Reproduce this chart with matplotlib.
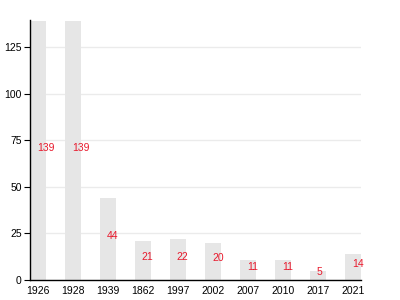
import numpy as np
import matplotlib.pyplot as plt

YEARS = ['1926', '1928', '1939', '1862', '1997', '2002', '2007', '2010', '2017', '2021']
VALUES = [139, 139, 44, 21, 22, 20, 11, 11, 5, 14]
YTICKS = [0, 25, 50, 75, 100, 125]

plt.rcParams['font.family'] = ['Liberation Sans', 'DejaVu Sans']

fig = plt.figure(figsize=(4, 3), dpi=100)
ax = fig.add_axes([0.075, 0.0667, 0.8275, 0.8667])

x = np.arange(len(YEARS))
w = 0.45
ax.bar(x, VALUES, width=w, color='#e6e6e6', zorder=2)

for xi, v in zip(x, VALUES):
    ax.text(xi - 0.03, v / 2, str(v), color='#e8192c', fontsize=7.5,
            ha='left', va='baseline', zorder=3)

ax.set_xlim(-w / 2, len(YEARS) - 1 + w / 2)
ax.set_ylim(0, 139.7)
ax.set_xticks(x)
ax.set_xticklabels(YEARS)
ax.set_yticks(YTICKS)
ax.tick_params(axis='x', length=0, pad=4, labelsize=7.5)
ax.tick_params(axis='y', length=4, width=0.8, pad=2, labelsize=7.5)
ax.yaxis.grid(True, color='#ebebeb', linewidth=1, zorder=0)
ax.set_axisbelow(True)

for s in ['top', 'right']:
    ax.spines[s].set_visible(False)
for s in ['left', 'bottom']:
    ax.spines[s].set_linewidth(1)
    ax.spines[s].set_zorder(4)

fig.savefig('out.png', dpi=100)
